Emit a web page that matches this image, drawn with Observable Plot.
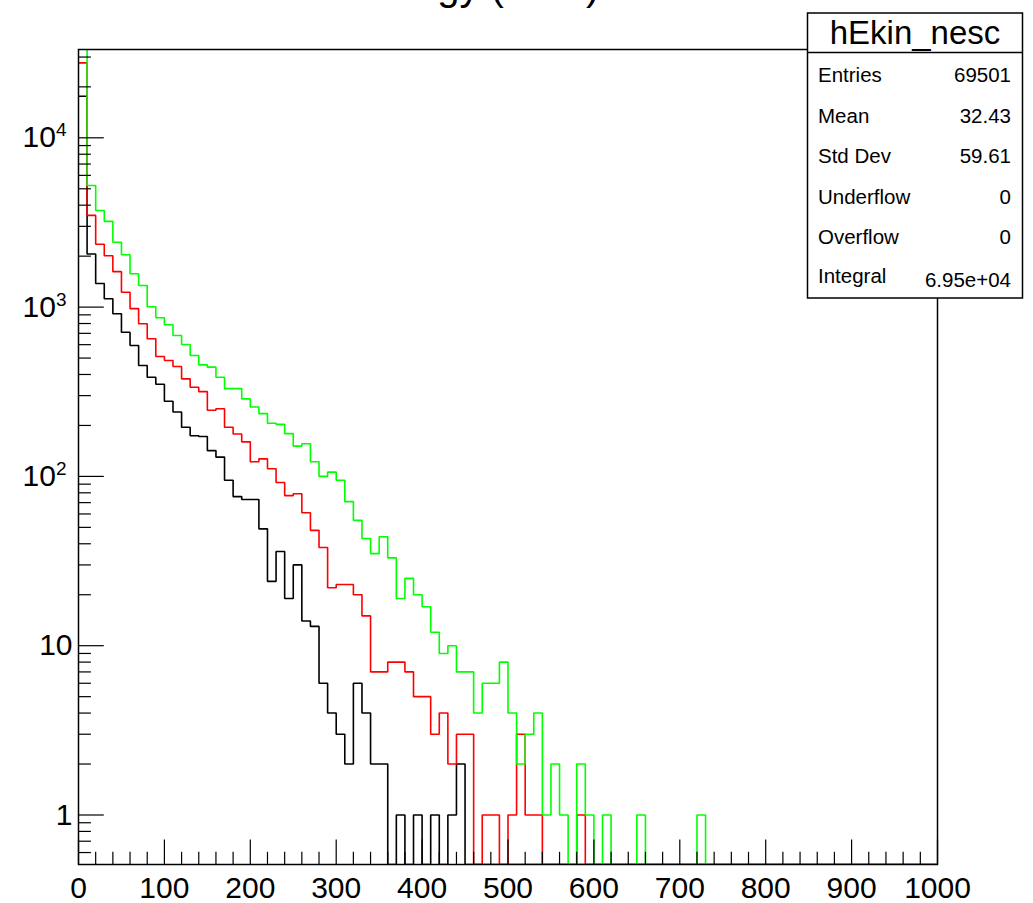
<!DOCTYPE html>
<html><head><meta charset="utf-8">
<script src="https://cdn.jsdelivr.net/npm/d3@7"></script>
<script src="https://cdn.jsdelivr.net/npm/@observablehq/plot@0.6"></script>
<style>html,body{margin:0;padding:0;background:#fff;} #chart{width:1033px;height:903px;overflow:hidden;}</style>
</head><body><div id="chart"></div>
<script>
// ---- data (counts per 10-unit bin, 0..1000) ----
const binWidth = 10;
const xLo = 0, xHi = 1000;
const blackCounts = [17600,2060,1380,1120,913,710,593,452,385,350,
  278,240,195,174,172,142,130,95,76,73,
  73,49,24,36,19,30,14,13,6,4,
  3,2,6,4,2,2,0,1,0,1,
  0,1,0,1,2,0,0,0,0,0,
  0,0,0,0,0,0,0,0,0,0,
  0,0,0,0,0,0,0,0,0,0,
  0,0,0,0,0,0,0,0,0,0,
  0,0,0,0,0,0,0,0,0,0,
  0,0,0,0,0,0,0,0,0,0];
const redCounts = [27700,3480,2350,2010,1620,1225,980,798,650,511,
  484,446,377,336,317,246,251,195,178,160,
  122,127,111,92,77,79,61,48,38,22,
  23,23,20,15,7,7,8,8,7,5,
  5,3,4,2,3,3,0,1,1,0,
  1,3,1,1,0,0,0,0,1,0,
  0,0,0,0,0,0,0,0,0,0,
  0,0,0,0,0,0,0,0,0,0,
  0,0,0,0,0,0,0,0,0,0,
  0,0,0,0,0,0,0,0,0,0];
const greenCounts = [41000,5230,3720,3210,2415,2040,1574,1342,1005,865,
  786,679,601,518,456,442,385,330,330,287,
  257,235,206,203,179,151,156,122,100,106,
  95,71,55,43,35,44,33,19,25,20,
  17,12,9,10,7,7,4,6,6,8,
  4,2,3,4,1,2,1,0,2,1,
  0,1,0,0,0,1,0,0,0,0,
  0,0,1,0,0,0,0,0,0,0,
  0,0,0,0,0,0,0,0,0,0,
  0,0,0,0,0,0,0,0,0,0];
const seriesColors = ["#000000", "#ff0000", "#00ff00"];

const xMajorTicks = [0,100,200,300,400,500,600,700,800,900,1000];
const xTickLabels = ["0","100","200","300","400","500","600","700","800","900","1000"];
const xMinorTicks = [20,40,60,80,120,140,160,180,220,240,260,280,320,340,360,380,420,440,460,480,
  520,540,560,580,620,640,660,680,720,740,760,780,820,840,860,880,920,940,960,980];
const yMajorTicks = [1,10,100,1000,10000];
const yTickLabels = ["1","10","10^2","10^3","10^4"];
const yMinorTicks = [0.6,0.7,0.8,0.9,2,3,4,5,6,7,8,9,20,30,40,50,60,70,80,90,
  200,300,400,500,600,700,800,900,2000,3000,4000,5000,6000,7000,8000,9000,20000,30000];
const yDomain = [0.51, 33240];

const titleText = "Kinetic Energy (MeV)";
const statsName = "hEkin_nesc";
const statsLabels = ["Entries","Mean","Std Dev","Underflow","Overflow","Integral"];
const statsValues = ["69501","32.43","59.61","0","0","6.95e+04"];

const FONT = "'Liberation Sans', Arial, Helvetica, sans-serif";

function histRows(counts) {
  const rows = counts.map((c, i) => ({x: xLo + i * binWidth, y: Math.max(c, yDomain[0])}));
  rows.push({x: xHi, y: Math.max(counts[counts.length - 1], yDomain[0])});
  return rows;
}
const allCounts = [blackCounts, redCounts, greenCounts];

const chart = Plot.plot({
  width: 1033, height: 903,
  marginLeft: 78, marginRight: 96, marginTop: 49, marginBottom: 39,
  style: {fontFamily: FONT, fontSize: "30px", color: "black", background: "white"},
  x: {domain: [xLo, xHi]},
  y: {type: "log", domain: yDomain},
  marks: [
    ...allCounts.map((counts, k) => Plot.line(histRows(counts), {
      x: "x", y: "y", curve: "step-after", stroke: seriesColors[k],
      strokeWidth: 1.6, strokeLinejoin: "miter", strokeLinecap: "butt", clip: true
    })),
    Plot.frame({stroke: "black", strokeWidth: 1.5}),
    Plot.axisX(xMajorTicks, {tickSize: -24.5, fill: "none", label: null, strokeWidth: 1.2}),
    Plot.axisX(xMinorTicks, {tickSize: -12.2, fill: "none", label: null, strokeWidth: 1.2}),
    Plot.axisX(xMajorTicks, {tickSize: 0, tickPadding: 12, stroke: "none", label: null,
      tickFormat: d => xTickLabels[xMajorTicks.indexOf(d)]}),
    Plot.axisY(yMajorTicks, {tickSize: -25.8, fill: "none", label: null, strokeWidth: 1.2}),
    Plot.axisY(yMinorTicks, {tickSize: -12.9, fill: "none", label: null, strokeWidth: 1.2}),
    Plot.axisY(yMajorTicks, {tickSize: 0, tickPadding: 6, stroke: "none", label: null,
      tickFormat: d => yTickLabels[yMajorTicks.indexOf(d)]}),
    Plot.text([titleText], {text: d => d, frameAnchor: "top-left", textAnchor: "start",
      lineAnchor: "middle", dx: 143, dy: -62.8, fontSize: 40})
  ]
});
document.getElementById("chart").appendChild(chart);

// superscripts for log labels
chart.querySelectorAll('g[aria-label="y-axis tick label"] text').forEach(t => {
  const s = t.textContent;
  if (s.includes("^")) {
    const [base, exp] = s.split("^");
    t.textContent = base;
    const ts = document.createElementNS("http://www.w3.org/2000/svg", "tspan");
    ts.setAttribute("dy", "-11");
    ts.setAttribute("font-size", "19");
    ts.textContent = exp;
    t.appendChild(ts);
    const tr = t.getAttribute("transform") || "";
    t.setAttribute("transform", tr + " translate(-6,0)");
  }
});

// stats box
const box = d3.select(chart).append("g").attr("font-family", FONT).attr("fill", "black");
box.append("rect").attr("x", 807.5).attr("y", 13).attr("width", 215).attr("height", 285)
  .attr("fill", "white").attr("stroke", "black").attr("stroke-width", 1.5);
box.append("line").attr("x1", 807.5).attr("x2", 1022.5).attr("y1", 52.5).attr("y2", 52.5)
  .attr("stroke", "black").attr("stroke-width", 1.5);
box.append("text").attr("x", 915).attr("y", 44).attr("text-anchor", "middle")
  .attr("font-size", 33).text(statsName);
statsLabels.forEach((lab, i) => {
  const yb = 82 + 40.6 * i;
  box.append("text").attr("x", 818).attr("y", i === 5 ? yb - 2 : yb).attr("text-anchor", "start")
    .attr("font-size", 20.5).text(lab);
  box.append("text").attr("x", 1011).attr("y", i === 5 ? yb + 1.5 : yb).attr("text-anchor", "end")
    .attr("font-size", 20.5).text(statsValues[i]);
});
</script>
</body></html>
